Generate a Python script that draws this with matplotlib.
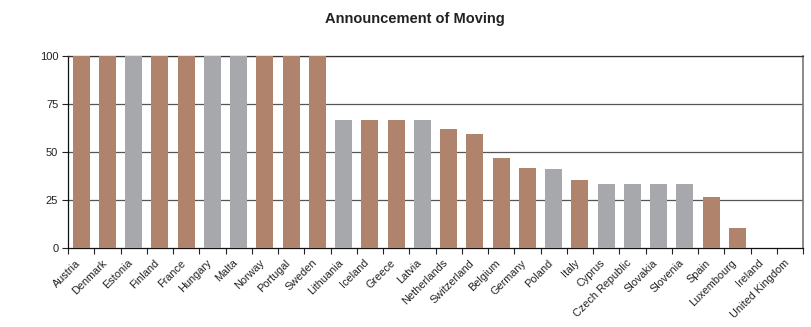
import matplotlib
matplotlib.use("Agg")
import matplotlib.pyplot as plt
import matplotlib.transforms as mtransforms
import numpy as np

plt.rcParams['font.family'] = ['Liberation Sans', 'DejaVu Sans']

countries = ["Austria", "Denmark", "Estonia", "Finland", "France", "Hungary", "Malta",
             "Norway", "Portugal", "Sweden", "Lithuania", "Iceland", "Greece", "Latvia",
             "Netherlands", "Switzerland", "Belgium", "Germany", "Poland", "Italy",
             "Cyprus", "Czech Republic", "Slovakia", "Slovenia", "Spain", "Luxembourg",
             "Ireland", "United Kingdom"]
values = [100, 100, 100, 100, 100, 100, 100, 100, 100, 100,
          66.7, 66.7, 66.7, 66.7, 61.8, 59.6, 47.1, 41.9, 41.4, 35.5,
          33.3, 33.3, 33.3, 33.3, 26.6, 10.5, 0, 0]
new_member = ["Estonia", "Hungary", "Malta", "Lithuania", "Latvia", "Poland",
              "Cyprus", "Czech Republic", "Slovakia", "Slovenia"]
yticks = [0, 25, 50, 75, 100]

BROWN = "#B0846C"
GREY = "#A7A8AC"
colors = [GREY if c in new_member else BROWN for c in countries]

fig = plt.figure(figsize=(8.11, 3.27), dpi=100)
ax = fig.add_axes([68/811, 1-248/327, (803-68)/811, (248-56)/327])

x = np.arange(len(countries))
ax.bar(x, values, width=0.64, color=colors, zorder=3)

ax.set_xlim(-0.5, len(countries) - 0.5)
ax.set_ylim(0, 100)
ax.set_yticks(yticks)
ax.set_yticklabels([str(v) for v in yticks], fontsize=8, color="#222222")
for v in yticks[1:]:
    ax.axhline(v, color="#555555", lw=0.9, zorder=2)

ax.set_xticks(x)
ax.set_xticklabels(countries, rotation=45, ha="right", rotation_mode="anchor",
                   fontsize=7.8, color="#222222")
ax.tick_params(axis="x", which="major", length=0, pad=7)
shift = mtransforms.ScaledTranslation(-6/100, 0, fig.dpi_scale_trans)
for lbl in ax.get_xticklabels():
    lbl.set_transform(lbl.get_transform() + shift)
ax.set_xticks(np.arange(-0.5, len(countries)), minor=True)
ax.tick_params(axis="x", which="minor", length=4, width=0.8, direction="out", color="#222222")
ax.tick_params(axis="y", length=4, width=0.8, direction="out", color="#222222", pad=3)

ax.spines["left"].set_color("#111111")
ax.spines["bottom"].set_color("#111111")
ax.spines["top"].set_color("#333333")
ax.spines["right"].set_color("#777777")
ax.spines["right"].set_linewidth(1.2)
for s in ["left", "bottom", "top"]:
    ax.spines[s].set_linewidth(0.9)

fig.text(415/811, 1-19/327, "Announcement of Moving", ha="center", va="center",
         fontsize=10.5, fontweight="bold", color="#222222")

fig.savefig("out.png", dpi=100)
